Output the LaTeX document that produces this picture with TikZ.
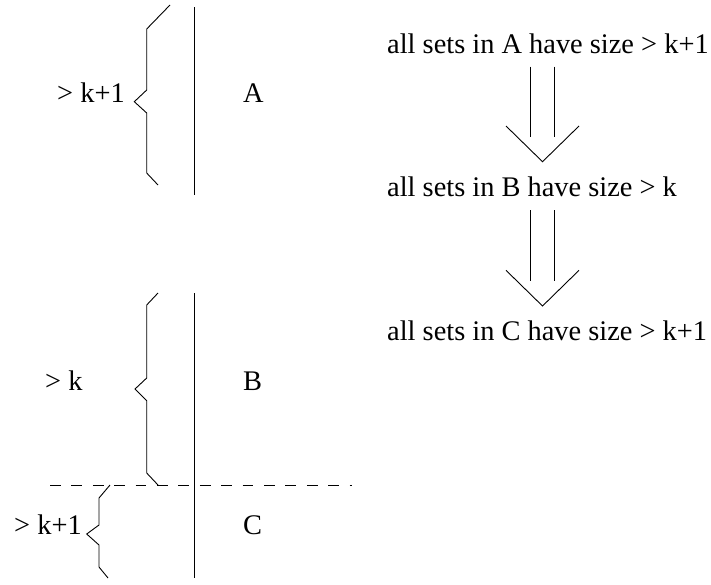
\documentclass[tikz,border=0pt]{standalone}
\usepackage{fontspec}
\setmainfont{Liberation Serif}
\begin{document}
\begin{tikzpicture}[x=1pt,y=-1pt,
  lbl/.style={anchor=base west,inner sep=0pt,font=\fontsize{28.4}{34}\selectfont},
  ln/.style={line width=0.9pt,line join=miter},
  cut/.style={ln,dash pattern=on 10.7pt off 10.7pt}]
\useasboundingbox (0,0) rectangle (711,584);
% left part: vertical lines
\coordinate (vAt) at (194,7);
\coordinate (vAb) at (194,195);
\coordinate (vBt) at (194,293);
\coordinate (vBb) at (194,578);
\draw[ln] (vAt) -- (vAb);
\draw[ln] (vBt) -- (vBb);
% dashed cut
\coordinate (dL) at (50,485);
\coordinate (dR) at (352,485);
\draw[cut] (dL) -- (dR);
% braces
\draw[ln] (170,5) -- (146.7,29) -- (146.7,90) -- (134.3,101.7) -- (146.7,113) -- (146.7,173) -- (158,185);
\draw[ln] (158,293) -- (146.7,305) -- (146.7,378) -- (135,389) -- (146.7,400.7) -- (146.7,473) -- (158,485);
\draw[ln] (110,485) -- (99,498) -- (99,525) -- (86.7,534) -- (99,545) -- (99,567) -- (108,578);
% labels left
\node[lbl] (lA) at (57,102.5) {> k+1};
\node[lbl] (rA) at (243,102.5) {A};
\node[lbl] (lB) at (45,390) {> k};
\node[lbl] (rB) at (243,390) {B};
\node[lbl] (lC) at (14,534) {> k+1};
\node[lbl] (rC) at (243,534) {C};
% right statements
\node[lbl] (sA) at (387,53.3) {all sets in A have size > k+1};
\node[lbl] (sB) at (387,196) {all sets in B have size > k};
\node[lbl] (sC) at (387,340) {all sets in C have size > k+1};
% implication arrows
\coordinate (a1s) at (542.5,66.7);
\coordinate (a1e) at (542.5,161.7);
\coordinate (a2s) at (542.5,210);
\coordinate (a2e) at (542.5,306);
\foreach \s/\e in {a1s/a1e,a2s/a2e}{
  \draw[ln] ([xshift=-11.8pt]\s) -- ([xshift=-11.8pt,yshift=24.7pt]\e);
  \draw[ln] ([xshift=11.8pt]\s) -- ([xshift=11.8pt,yshift=24.7pt]\e);
  \draw[ln] ([xshift=-36.5pt,yshift=35.7pt]\e) -- (\e) -- ([xshift=36.5pt,yshift=35.7pt]\e);
}
\end{tikzpicture}
\end{document}
